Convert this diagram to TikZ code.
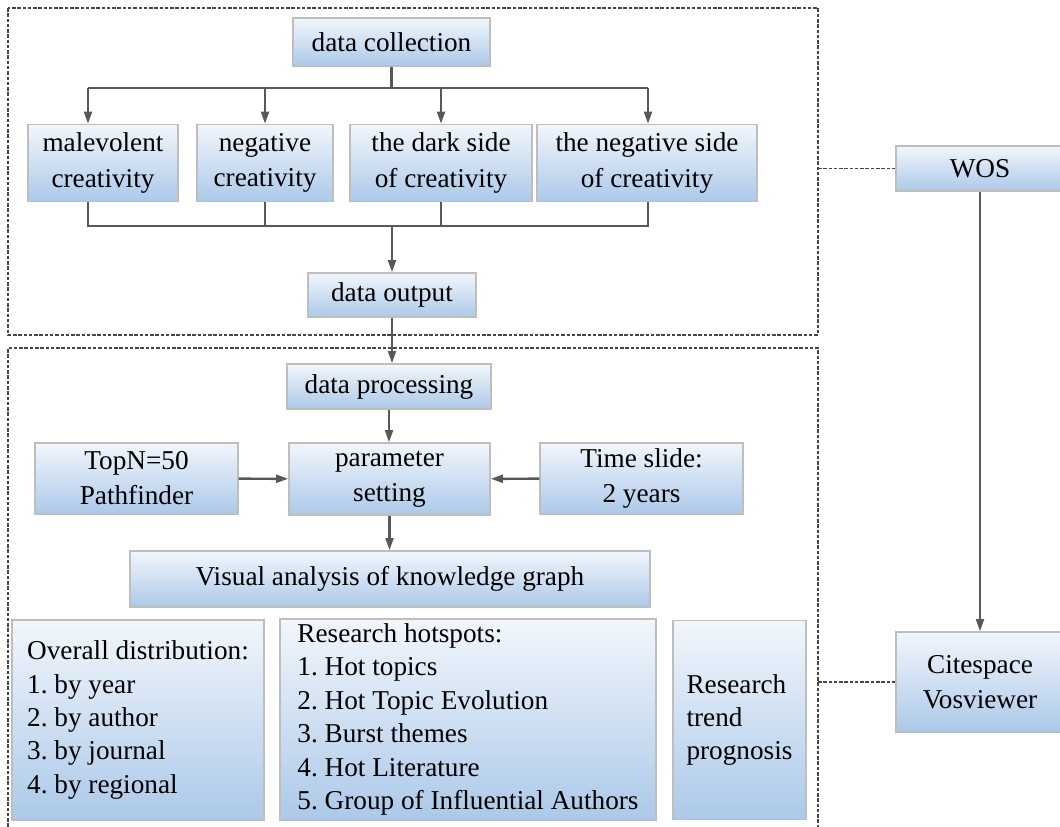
\documentclass[tikz,border=0pt]{standalone}
\usepackage{fontspec}
\setmainfont{Liberation Serif}
\usepackage{tikz}
\usetikzlibrary{arrows.meta, positioning}
\definecolor{boxtop}{RGB}{242,246,252}
\definecolor{boxbot}{RGB}{172,201,233}
\definecolor{boxline}{RGB}{190,190,190}
\definecolor{arrgray}{RGB}{88,88,88}
\definecolor{dashgray}{RGB}{70,70,70}
\tikzset{
  stepbox/.style={draw=boxline, line width=0.8pt, top color=boxtop, bottom color=boxbot,
    align=center, inner sep=0pt, font=\fontsize{15.5}{20}\selectfont},
  listbox/.style={stepbox, align=left, font=\fontsize{15.5}{19}\selectfont},
  link/.style={draw=arrgray, line width=1.4pt},
  arr/.style={link, -{Triangle[length=7pt,width=4.5pt]}},
  frame/.style={draw=dashgray, line width=0.6pt, dash pattern=on 2pt off 1pt},
}
\begin{document}
\frenchspacing
\begin{tikzpicture}[x=0.02cm, y=-0.02cm]
  \useasboundingbox (0,0) rectangle (1060,827);
  % dashed frames
  \draw[frame] (8,8) rectangle (818,335);
  \draw[frame] (8,827) -- (8,348) -- (818,348) -- (818,827);
  \coordinate (frameR) at (818,0);

  % collection part
  \node[stepbox, minimum width=3.94cm, minimum height=0.96cm] (coll) at (391.5,42) {data collection};
  \node[stepbox, minimum width=3.0cm, minimum height=1.54cm] (mal) at (103,163) {malevolent\\creativity};
  \node[stepbox, minimum width=2.72cm, minimum height=1.54cm] (neg) at (265,163) {negative\\creativity};
  \node[stepbox, minimum width=3.64cm, minimum height=1.54cm] (dark) at (441,163) {the dark side\\of creativity};
  \node[stepbox, minimum width=4.4cm, minimum height=1.54cm] (negside) at (647,163) {the negative side\\of creativity};
  \node[stepbox, minimum width=3.36cm, minimum height=0.88cm] (out) at (392,295) {data output};

  % processing part
  \node[stepbox, minimum width=4.08cm, minimum height=0.9cm] (proc) at (389,386.5) {data processing};
  \node[stepbox, minimum width=4.02cm, minimum height=1.44cm] (para) at (389.5,479) {parameter\\setting};
  \node[stepbox, minimum width=4.06cm, minimum height=1.42cm] (topn) at (136.5,478.5) {TopN=50\\Pathfinder};
  \node[stepbox, minimum width=4.06cm, minimum height=1.42cm] (slide) at (641.5,478.5) {Time slide:\\2 years};
  \node[stepbox, minimum width=10.4cm, minimum height=1.12cm] (vis) at (390,579) {Visual analysis of knowledge graph};
  \node[listbox, minimum width=5.04cm, minimum height=4.0cm] (dist) at (138,720)
    {Overall distribution:\\1. by year\\2. by author\\3. by journal\\4. by regional};
  \node[listbox, minimum width=7.52cm, minimum height=4.02cm] (hot) at (468,719.5)
    {Research hotspots:\\1. Hot topics\\2. Hot Topic Evolution\\3. Burst themes\\4. Hot Literature\\5. Group of Influential Authors};
  \node[listbox, minimum width=2.66cm, minimum height=3.98cm] (trend) at (739.5,720)
    {Research\\trend\\prognosis};

  % tools
  \node[stepbox, minimum width=3.36cm, minimum height=0.9cm] (wos) at (980,168.5) {WOS};
  \node[stepbox, minimum width=3.36cm, minimum height=2.0cm] (cite) at (980,682) {Citespace\\Vosviewer};

  % buses
  \coordinate (tbL) at (88,88);
  \coordinate (tbR) at (648,88);
  \coordinate (bbL) at (88,226);
  \coordinate (bbR) at (648,226);

  \draw[link] (coll.south) -- (coll.south |- tbL);
  \draw[link] (tbL) -- (tbR);
  \draw[arr] (tbL) -- (tbL |- mal.north);
  \draw[arr] (neg.north |- tbL) -- (neg.north);
  \draw[arr] (dark.north |- tbL) -- (dark.north);
  \draw[arr] (tbR) -- (tbR |- negside.north);

  \draw[link] (bbL |- mal.south) -- (bbL) -- (bbR) -- (bbR |- negside.south);
  \draw[link] (neg.south) -- (neg.south |- bbL);
  \draw[link] (dark.south) -- (dark.south |- bbL);
  \draw[arr] (out.north |- bbL) -- (out.north);

  \draw[arr] (out.south) -- (out.south |- proc.north);
  \draw[arr] (proc.south) -- (proc.south |- para.north);
  \draw[arr] (topn) -- (para);
  \draw[arr] (slide) -- (para);
  \draw[arr] (para.south) -- (para.south |- vis.north);
  \draw[arr] (wos) -- (cite);

  % dashed ties to the tools
  \draw[frame] (wos.west) -- (wos.west -| frameR);
  \draw[frame] (cite.west) -- (cite.west -| frameR);
\end{tikzpicture}
\end{document}
